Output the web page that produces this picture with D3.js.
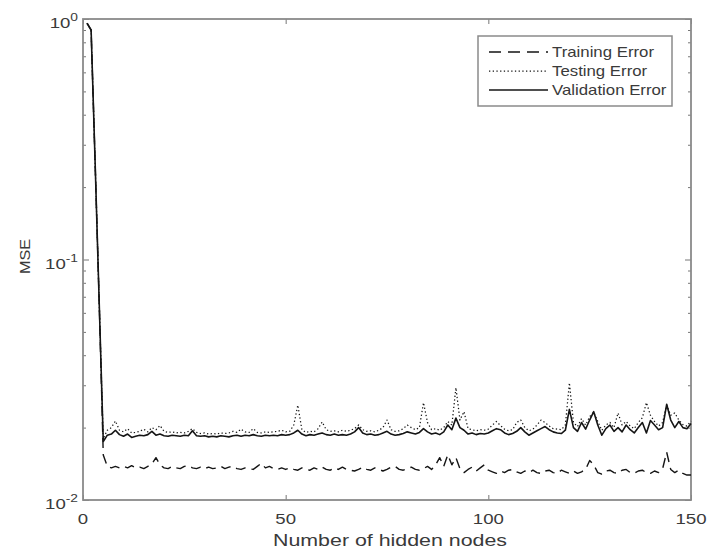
<!DOCTYPE html>
<html><head><meta charset="utf-8">
<script src="https://cdn.jsdelivr.net/npm/d3@7"></script>
<style>
body{margin:0;background:#fff}
svg{display:block}
text{font-family:"Liberation Sans",Arial,Helvetica,sans-serif;fill:#3a3a3a}
</style>
</head><body><svg id="c" width="708" height="559"></svg>
<script>
// ---- data (x = number of hidden nodes, 1..150) ----
const validationError = [
0.96,0.90,0.25,0.066,0.0175,0.0186,0.0188,0.0195,0.0187,0.0184,
0.0188,0.0182,0.0184,0.0186,0.0185,0.0187,0.0193,0.0186,0.0188,0.0185,
0.0184,0.0186,0.0185,0.0184,0.0186,0.0185,0.0194,0.0185,0.0184,0.0185,
0.0183,0.0184,0.0183,0.0185,0.0184,0.0183,0.0185,0.0186,0.0184,0.0186,
0.0185,0.0187,0.0185,0.0184,0.0186,0.0185,0.0186,0.0185,0.0187,0.0186,
0.0187,0.0190,0.0195,0.0188,0.0185,0.0187,0.0186,0.0188,0.0190,0.0187,
0.0186,0.0188,0.0186,0.0187,0.0186,0.0188,0.0192,0.0200,0.0190,0.0187,
0.0188,0.0186,0.0187,0.0190,0.0193,0.0188,0.0186,0.0187,0.0189,0.0192,
0.0190,0.0188,0.0191,0.0198,0.0192,0.0188,0.0190,0.0187,0.0192,0.0205,
0.0196,0.0219,0.0200,0.0195,0.0188,0.0190,0.0187,0.0189,0.0188,0.0190,
0.0194,0.0198,0.0196,0.0190,0.0187,0.0189,0.0193,0.0200,0.0192,0.0186,
0.0190,0.0194,0.0198,0.0202,0.0196,0.0192,0.0190,0.0189,0.0195,0.0238,
0.0200,0.0193,0.0210,0.0197,0.0215,0.0233,0.0205,0.0186,0.0198,0.0205,
0.0193,0.0200,0.0192,0.0205,0.0196,0.0190,0.0200,0.0210,0.0190,0.0214,
0.0205,0.0196,0.0200,0.0250,0.0215,0.0200,0.0212,0.0200,0.0198,0.0208];

const testingError = [
0.96,0.90,0.25,0.066,0.0180,0.0195,0.0200,0.0213,0.0195,0.0192,
0.0198,0.0190,0.0191,0.0193,0.0197,0.0192,0.0200,0.0196,0.0204,0.0193,
0.0191,0.0192,0.0190,0.0191,0.0190,0.0193,0.0198,0.0191,0.0189,0.0190,
0.0188,0.0189,0.0188,0.0190,0.0189,0.0190,0.0193,0.0191,0.0197,0.0192,
0.0191,0.0198,0.0191,0.0190,0.0192,0.0191,0.0192,0.0193,0.0195,0.0192,
0.0193,0.0205,0.0248,0.0196,0.0191,0.0193,0.0192,0.0198,0.0211,0.0196,
0.0193,0.0194,0.0192,0.0195,0.0193,0.0195,0.0198,0.0205,0.0196,0.0193,
0.0194,0.0192,0.0195,0.0200,0.0215,0.0196,0.0193,0.0194,0.0198,0.0205,
0.0200,0.0196,0.0200,0.0254,0.0210,0.0196,0.0198,0.0195,0.0200,0.0212,
0.0205,0.0293,0.0215,0.0233,0.0198,0.0196,0.0194,0.0196,0.0195,0.0197,
0.0205,0.0212,0.0204,0.0197,0.0194,0.0196,0.0210,0.0215,0.0200,0.0194,
0.0197,0.0205,0.0215,0.0210,0.0203,0.0198,0.0197,0.0196,0.0205,0.0307,
0.0210,0.0202,0.0218,0.0205,0.0222,0.0232,0.0212,0.0195,0.0205,0.0210,
0.0200,0.0230,0.0205,0.0212,0.0203,0.0198,0.0210,0.0220,0.0254,0.0225,
0.0212,0.0203,0.0210,0.0248,0.0225,0.0230,0.0215,0.0206,0.0203,0.0213];

const trainingError = [
0.96,0.90,0.25,0.066,0.0154,0.0138,0.0136,0.0138,0.0136,0.0138,
0.0136,0.0139,0.0136,0.0137,0.0135,0.0138,0.0141,0.0150,0.0140,0.0136,
0.0135,0.0138,0.0136,0.0135,0.0138,0.0139,0.0136,0.0135,0.0137,0.0135,
0.0137,0.0135,0.0136,0.0138,0.0135,0.0137,0.0138,0.0135,0.0134,0.0136,
0.0135,0.0134,0.0138,0.0142,0.0136,0.0138,0.0135,0.0134,0.0136,0.0134,
0.0136,0.0134,0.0133,0.0136,0.0134,0.0133,0.0136,0.0134,0.0137,0.0134,
0.0133,0.0136,0.0134,0.0137,0.0134,0.0133,0.0132,0.0134,0.0137,0.0134,
0.0133,0.0136,0.0134,0.0132,0.0134,0.0137,0.0138,0.0134,0.0133,0.0135,
0.0137,0.0134,0.0133,0.0135,0.0138,0.0134,0.0140,0.0150,0.0138,0.0154,
0.0140,0.0150,0.0135,0.0130,0.0134,0.0137,0.0132,0.0136,0.0140,0.0133,
0.0131,0.0129,0.0132,0.0130,0.0133,0.0134,0.0131,0.0129,0.0132,0.0130,
0.0133,0.0130,0.0129,0.0132,0.0133,0.0130,0.0129,0.0133,0.0131,0.0129,
0.0132,0.0129,0.0131,0.0134,0.0146,0.0140,0.0130,0.0128,0.0132,0.0133,
0.0130,0.0129,0.0133,0.0134,0.0130,0.0129,0.0132,0.0133,0.0130,0.0129,
0.0132,0.0130,0.0135,0.0158,0.0134,0.0130,0.0133,0.0129,0.0127,0.0127];

const xTicks = [0, 50, 100, 150];
const yMajorTicks = [0.01, 0.1, 1];
const yMajorExponents = ["-2", "-1", "0"];
const seriesNames = ["Training Error", "Testing Error", "Validation Error"];
const xLabel = "Number of hidden nodes";
const yLabel = "MSE";

// ---- layout ----
const svg = d3.select("#c");
const L = 83, R = 691, T = 19, B = 500;
const x = d3.scaleLinear().domain([0, 150]).range([L, R]);
const y = d3.scaleLog().domain([0.01, 1]).range([B, T]);
const frameColor = "#8a8a8a";
const SX = 1.2; // horizontal text stretch of the reference

const yMinor = [];
[0.01, 0.1].forEach(d => { for (let k = 2; k <= 9; k++) yMinor.push(+(d * k).toPrecision(3)); });

function styleAxis(g) {
  g.select(".domain").remove();
  g.selectAll("line").attr("stroke", "#777").attr("stroke-width", 1);
  g.selectAll("text").remove();
}

// ticks (inward, mirrored on all sides)
svg.append("g").attr("transform", `translate(0,${B})`)
  .call(d3.axisBottom(x).tickValues(xTicks).tickSizeInner(-5).tickSizeOuter(0)).call(styleAxis);
svg.append("g").attr("transform", `translate(0,${T})`)
  .call(d3.axisTop(x).tickValues(xTicks).tickSizeInner(-5).tickSizeOuter(0)).call(styleAxis);
svg.append("g").attr("transform", `translate(${L},0)`)
  .call(d3.axisLeft(y).tickValues(yMajorTicks).tickSizeInner(-6).tickSizeOuter(0)).call(styleAxis);
svg.append("g").attr("transform", `translate(${L},0)`)
  .call(d3.axisLeft(y).tickValues(yMinor).tickSizeInner(-3).tickSizeOuter(0)).call(styleAxis);
svg.append("g").attr("transform", `translate(${R},0)`)
  .call(d3.axisRight(y).tickValues(yMajorTicks).tickSizeInner(-6).tickSizeOuter(0)).call(styleAxis);
svg.append("g").attr("transform", `translate(${R},0)`)
  .call(d3.axisRight(y).tickValues(yMinor).tickSizeInner(-3).tickSizeOuter(0)).call(styleAxis);

// frame
svg.append("rect").attr("x", L).attr("y", T).attr("width", R - L).attr("height", B - T)
  .attr("fill", "none").attr("stroke", frameColor).attr("stroke-width", 1.8);

// x tick labels
svg.append("g").selectAll("text").data(xTicks).join("text")
  .attr("transform", d => `translate(${x(d)},${B + 24}) scale(${SX},1)`)
  .attr("text-anchor", "middle").attr("font-size", 15.5).text(d => d);

// y tick labels 10^n
const yl = svg.append("g").selectAll("text").data(yMajorTicks).join("text")
  .attr("transform", d => `translate(78,${y(d) + 9}) scale(${SX},1)`)
  .attr("text-anchor", "end").attr("font-size", 15.5);
yl.append("tspan").text("10");
yl.append("tspan").attr("dy", -7).attr("font-size", 11.5).text((d, i) => yMajorExponents[i]);

// axis titles
svg.append("text").attr("x", (L + R) / 2 + 3).attr("y", 546).attr("text-anchor", "middle")
  .attr("font-size", 16).attr("textLength", 234).attr("lengthAdjust", "spacingAndGlyphs").text(xLabel);
svg.append("text").attr("transform", `translate(29.5,${(T + B) / 2 - 3}) rotate(-90) scale(1.05,1)`)
  .attr("text-anchor", "middle").attr("font-size", 15.5).text(yLabel);

// lines
const line = d3.line().x((d, i) => x(i + 1)).y(d => y(d));
const series = [
  {name: seriesNames[0], values: trainingError, dash: "10,6", w: 1.4},
  {name: seriesNames[1], values: testingError, dash: "1.3,2.4", w: 1.25},
  {name: seriesNames[2], values: validationError, dash: null, w: 1.6}
];
svg.append("g").selectAll("path").data(series).join("path")
  .attr("d", d => line(d.values)).attr("fill", "none").attr("stroke", "#151515")
  .attr("stroke-width", d => d.w).attr("stroke-dasharray", d => d.dash)
  .attr("stroke-linejoin", "round");

// legend
const lg = svg.append("g");
lg.append("rect").attr("x", 478).attr("y", 36).attr("width", 194).attr("height", 70)
  .attr("fill", "#fff").attr("stroke", frameColor).attr("stroke-width", 1.5);
const rows = lg.selectAll("g.r").data(series).join("g").attr("class", "r")
  .attr("transform", (d, i) => `translate(0,${52 + i * 19})`);
rows.append("line").attr("x1", 489).attr("x2", 548).attr("y1", 0).attr("y2", 0)
  .attr("stroke", "#151515").attr("stroke-width", d => d.w)
  .attr("stroke-dasharray", d => d.dash ? (d.dash === "10,6" ? "12,7" : d.dash) : null);
rows.append("text").attr("transform", `translate(552,5) scale(${SX},1)`)
  .attr("font-size", 14).text(d => d.name);
</script></body></html>
